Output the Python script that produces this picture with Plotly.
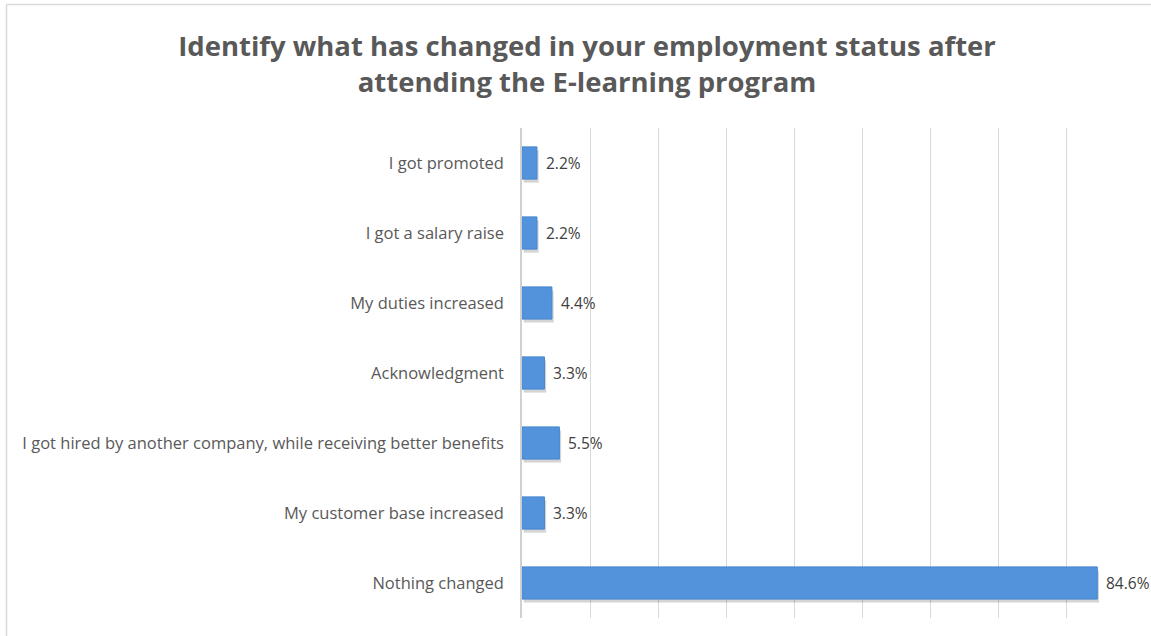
import plotly.graph_objects as go

# Survey responses, top to bottom as listed in the questionnaire
categories = [
    "I got promoted",
    "I got a salary raise",
    "My duties increased",
    "Acknowledgment",
    "I got hired by another company, while receiving better benefits",
    "My customer base increased",
    "Nothing changed",
]
shares = [2.2, 2.2, 4.4, 3.3, 5.5, 3.3, 84.6]

W, H = 1151, 636
M_L, M_R, M_T, M_B = 522, 17, 128, 18
FONT = "Open Sans"
TEXT_GREY = "#595959"
BAR_BLUE = "#5393dc"
BAR_W = 0.46

fig = go.Figure()

# soft drop shadow under each bar
fig.add_trace(go.Bar(
    y=categories, x=shares, orientation="h",
    base=0.25, width=BAR_W, offset=-BAR_W / 2 + 0.05,
    marker=dict(color="rgba(60,60,60,0.22)", line=dict(width=0)),
    hoverinfo="skip", showlegend=False,
))

fig.add_trace(go.Bar(
    y=categories, x=shares, orientation="h",
    width=BAR_W, offset=-BAR_W / 2,
    marker=dict(color=BAR_BLUE, line=dict(color="#4586d0", width=1)),
    showlegend=False,
))

# value labels to the right of each bar
for cat, val in zip(categories, shares):
    fig.add_annotation(
        x=val, y=cat, text=f"{val:.1f}%", showarrow=False,
        xanchor="left", xshift=7,
        font=dict(family=FONT, size=15.5, color="#404040"),
    )

# light frame around the chart area
pw = W - M_L - M_R
ph = H - M_T - M_B
fx0 = (6.5 - M_L) / pw
fy0 = (H - M_B - 4.5) / ph
fig.add_shape(type="line", xref="paper", yref="paper",
              x0=fx0, x1=1.2, y0=fy0, y1=fy0,
              line=dict(color="#d9d9d9", width=1.5))
fig.add_shape(type="line", xref="paper", yref="paper",
              x0=fx0, x1=fx0, y0=fy0, y1=-0.2,
              line=dict(color="#d9d9d9", width=1.5))

fig.update_layout(
    width=W, height=H,
    margin=dict(l=M_L, r=M_R, t=M_T, b=M_B),
    paper_bgcolor="white", plot_bgcolor="white",
    barmode="overlay",
    title=dict(
        text="Identify what has changed in your employment status after<br>attending the E-learning program",
        x=587 / W, xanchor="center", y=1 - 56 / H, yanchor="middle",
        font=dict(family=FONT, size=27.5, color=TEXT_GREY, weight="bold"),
    ),
    xaxis=dict(
        range=[0, 90], dtick=10, showticklabels=False,
        showgrid=True, gridcolor="#d9d9d9", gridwidth=1,
        zeroline=False, showline=False, fixedrange=True,
    ),
    yaxis=dict(
        autorange="reversed", showgrid=False, showline=True,
        linecolor="#d0d0d0", linewidth=1.5,
        ticks="", ticklabelstandoff=13,
        tickfont=dict(family=FONT, size=16.5, color=TEXT_GREY),
    ),
    font=dict(family=FONT),
)

fig.write_html("out.html")
